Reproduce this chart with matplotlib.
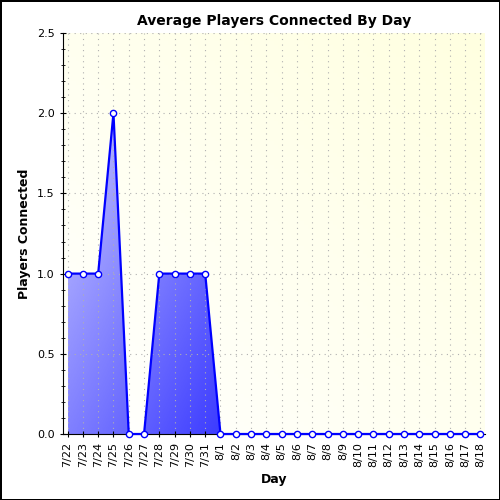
import matplotlib
matplotlib.use("Agg")
import matplotlib.pyplot as plt
import numpy as np
from matplotlib.colors import LinearSegmentedColormap

days = ["7/22","7/23","7/24","7/25","7/26","7/27","7/28","7/29","7/30","7/31",
        "8/1","8/2","8/3","8/4","8/5","8/6","8/7","8/8","8/9","8/10","8/11",
        "8/12","8/13","8/14","8/15","8/16","8/17","8/18"]
players = [1,1,1,2,0,0,1,1,1,1,0,0,0,0,0,0,0,0,0,0,0,0,0,0,0,0,0,0]

fig = plt.figure(figsize=(5,5), dpi=100)
fig.patch.set_edgecolor("black"); fig.patch.set_linewidth(1)
ax = fig.add_axes([0.126, 0.132, 0.844, 0.802])
x = np.arange(len(days))
ax.set_xlim(-0.3, len(days)-0.7)
ax.set_ylim(0, 2.5)

N = 100
g = np.linspace(0, 1, N)
# origin upper: row 0 is top. value 0 at top-left, 1 at bottom-right
tl_br = (g[None, :] + g[:, None]) / 2
# background: white at bottom-left, yellow at top-right
bl_tr = (g[None, :] + g[::-1][:, None]) / 2
bg = LinearSegmentedColormap.from_list("bg", ["#ffffff", "#ffffe0"])
ax.imshow(bl_tr, cmap=bg, extent=[-0.3, len(days)-0.7, 0, 2.5], aspect="auto", zorder=0, origin="upper")

fc = LinearSegmentedColormap.from_list("fc", ["#c4c4ff", "#3c3cff"])
poly = ax.fill_between(x, players, 0, color="none", zorder=1)
im = ax.imshow(tl_br, cmap=fc, extent=[0, 10, 0, 2.0], aspect="auto", zorder=1, origin="upper")
im.set_clip_path(poly.get_paths()[0], transform=ax.transData)

ax.plot(x, players, color="#0000ff", lw=1.6, marker="o", ms=4.5, mfc="white", mec="#0000ff", mew=1, zorder=3, clip_on=False)

ax.set_xticks(x)
ax.set_xticklabels(days, rotation=90, fontsize=8)
ax.set_yticks(np.arange(0, 2.51, 0.5))
ax.set_yticklabels([f"{v:.1f}" for v in np.arange(0, 2.51, 0.5)], fontsize=8)
ax.set_yticks(np.arange(0, 2.51, 0.1), minor=True)
ax.tick_params(axis="y", which="minor", length=3, direction="inout")
ax.tick_params(axis="both", which="major", length=5, direction="inout")
ax.grid(True, which="major", linestyle=(0,(1,4)), color="#b0b0b0", lw=0.8)
for s in ["top", "right"]:
    ax.spines[s].set_visible(False)
ax.set_xlabel("Day", fontsize=9, fontweight="bold")
ax.set_ylabel("Players Connected", fontsize=9, fontweight="bold")
ax.set_title("Average Players Connected By Day", fontsize=10, fontweight="bold")
fig.savefig("out.png", dpi=100, edgecolor=fig.get_edgecolor())
